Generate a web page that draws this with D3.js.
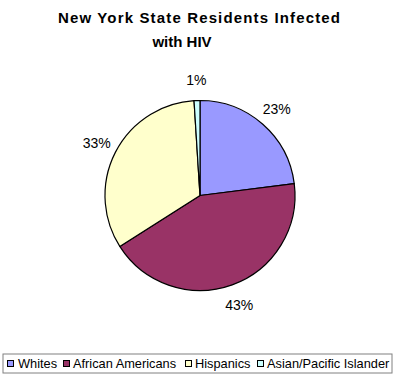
<!DOCTYPE html>
<html>
<head>
<meta charset="utf-8">
<script src="https://cdn.jsdelivr.net/npm/d3@7"></script>
<style>
  body { margin: 0; background: #fff; }
  svg text { font-family: Arial, "Liberation Sans", sans-serif; }
</style>
</head>
<body>
<svg width="400" height="383"></svg>
<script>
const groups = ["Whites", "African Americans", "Hispanics", "Asian/Pacific Islander"];
const shares = [23, 43, 33, 1];
const colors = ["#9999FF", "#993366", "#FFFFCC", "#CCFFFF"];

const svg = d3.select("svg"),
    cx = 200, cy = 195.5, radius = 95;

// title, second line sits a bit left like the original
svg.append("text")
    .attr("x", 199).attr("y", 23)
    .attr("text-anchor", "middle")
    .attr("textLength", 282).attr("lengthAdjust", "spacing")
    .style("font-size", "15px").style("font-weight", "bold")
    .text("New York State Residents Infected");
svg.append("text")
    .attr("x", 182).attr("y", 47)
    .attr("text-anchor", "middle")
    .style("font-size", "15px").style("font-weight", "bold")
    .text("with HIV");

const color = d3.scaleOrdinal().domain(groups).range(colors);

const pie = d3.pie().sort(null).value(d => d.v);
const arcs = pie(groups.map((g, i) => ({ g: g, v: shares[i] })));

const arc = d3.arc().innerRadius(0).outerRadius(radius);
const labelArc = d3.arc().innerRadius(116).outerRadius(116);

const g = svg.append("g").attr("transform", "translate(" + cx + "," + cy + ")");

g.selectAll("path")
    .data(arcs)
  .enter().append("path")
    .attr("d", arc)
    .attr("fill", d => color(d.data.g))
    .attr("stroke", "#000")
    .attr("stroke-width", 1.2)
    .attr("stroke-linejoin", "round");

g.selectAll("text.pct")
    .data(arcs)
  .enter().append("text")
    .attr("class", "pct")
    .attr("transform", d => "translate(" + labelArc.centroid(d) + ")")
    .attr("dy", "0.36em")
    .attr("text-anchor", "middle")
    .style("font-size", "14px")
    .text(d => d.data.v + "%");

// legend
const legend = svg.append("g");
legend.append("rect")
    .attr("x", 3).attr("y", 354)
    .attr("width", 389).attr("height", 19)
    .attr("fill", "#fff")
    .attr("stroke", "#808080")
    .attr("stroke-width", 1);

const itemX = [7, 63, 185, 257];
const item = legend.selectAll("g.item")
    .data(groups)
  .enter().append("g")
    .attr("class", "item")
    .attr("transform", (d, i) => "translate(" + itemX[i] + ",0)");

item.append("rect")
    .attr("x", 0.5).attr("y", 360.5)
    .attr("width", 6).attr("height", 6)
    .attr("fill", d => color(d))
    .attr("stroke", "#000")
    .attr("stroke-width", 1);

item.append("text")
    .attr("x", d => d === "Whites" ? 11 : 10)
    .attr("y", 368)
    .style("font-size", "12.8px")
    .text(d => d);
</script>
</body>
</html>
